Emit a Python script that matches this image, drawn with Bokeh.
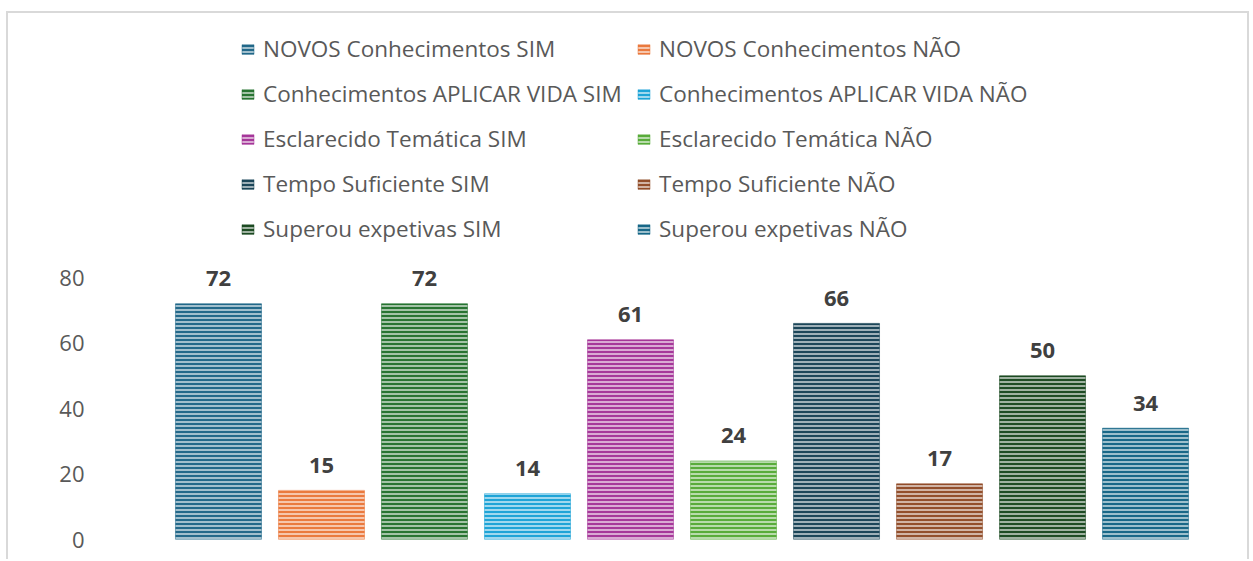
from bokeh.plotting import figure
from bokeh.models import ColumnDataSource, Legend, LegendItem, Range1d, FixedTicker
from bokeh.core.properties import value
from bokeh.embed import file_html
from bokeh.resources import INLINE

series = ["NOVOS Conhecimentos SIM", "NOVOS Conhecimentos NÃO",
          "Conhecimentos APLICAR VIDA SIM", "Conhecimentos APLICAR VIDA NÃO",
          "Esclarecido Temática SIM", "Esclarecido Temática NÃO",
          "Tempo Suficiente SIM", "Tempo Suficiente NÃO",
          "Superou expetivas SIM", "Superou expetivas NÃO"]
values = [72, 15, 72, 14, 61, 24, 66, 17, 50, 34]
dark_colors = ["#156082", "#E97132", "#196B24", "#0F9ED5", "#A02B93",
               "#4EA72E", "#0D3A4E", "#8C441E", "#0F4016", "#095F80"]
y_ticks = [0, 20, 40, 60, 80]


def tint(hex_color, f):
    h = hex_color.lstrip("#")
    r, g, b = (int(h[i:i + 2], 16) for i in (0, 2, 4))
    r, g, b = (int(c + (255 - c) * f) for c in (r, g, b))
    return "#%02x%02x%02x" % (r, g, b)


light_colors = [tint(c, 0.6) for c in dark_colors]
xs = list(range(len(series)))

src = ColumnDataSource(dict(x=xs, top=values, name=series, dark=dark_colors,
                            light=light_colors, lbl=[str(v) for v in values]))

FONT = "Open Sans"

p = figure(width=1243, height=548,
           x_range=Range1d(-1.194, 9.922), y_range=Range1d(0, 158.5),
           output_backend="svg", toolbar_location=None,
           min_border_left=87, min_border_right=11, min_border_top=7,
           min_border_bottom=22)
p.styles = {"margin-left": "6px", "margin-top": "11px",
            "border-top": "2px solid #d9d9d9", "border-left": "2px solid #d9d9d9",
            "border-right": "2px solid #d9d9d9"}
p.outline_line_color = None
p.grid.visible = False
p.xaxis.visible = False

ya = p.yaxis[0]
ya.ticker = FixedTicker(ticks=y_ticks)
ya.axis_line_color = None
ya.major_tick_line_color = None
ya.minor_tick_line_color = None
ya.major_tick_in = 0
ya.major_tick_out = 0
ya.major_label_standoff = 11
ya.major_label_text_font = FONT
ya.major_label_text_font_size = "22px"
ya.major_label_text_color = "#595959"

r = p.vbar(x="x", top="top", width=0.835, source=src,
           fill_color="light", line_color="dark", line_width=0.8, line_alpha=0.6,
           hatch_pattern="-", hatch_color="dark", hatch_scale=4, hatch_weight=1.8)

p.text(x="x", y="top", text="lbl", source=src, text_align="center",
       text_baseline="middle", y_offset=-25, text_font=value(FONT),
       text_font_size="22px", text_font_style="bold", text_color="#404040")

for col, off in ((0, 145), (1, 541)):
    items = [LegendItem(label=series[i], renderers=[r], index=i)
             for i in range(col, len(series), 2)]
    leg = Legend(items=items, location=(off, 295), orientation="vertical",
                 glyph_width=15, glyph_height=12, label_standoff=8,
                 label_height=30, spacing=14, padding=0, margin=0,
                 border_line_color=None, background_fill_alpha=0,
                 label_text_font=FONT, label_text_font_size="22.5px",
                 label_text_color="#595959")
    p.add_layout(leg, "center")

open("out.html", "w").write(file_html(p, INLINE))
